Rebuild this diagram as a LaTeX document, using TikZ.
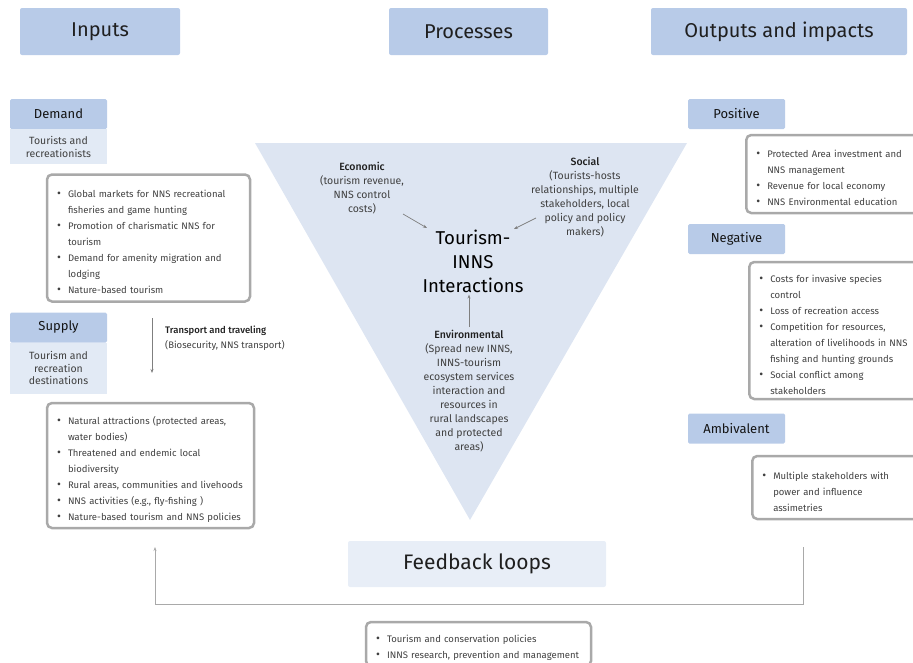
\documentclass[tikz,border=0pt]{standalone}
\usepackage{fontspec}
\setmainfont{Fira Sans}
\newfontface\medfont{Fira Sans Medium}
\usetikzlibrary{positioning,arrows.meta}
\definecolor{hdrblue}{HTML}{B8CBE8}
\definecolor{subblue}{HTML}{E2EAF5}
\definecolor{triblue}{HTML}{DDE5F2}
\definecolor{fbblue}{HTML}{E8EEF7}
\definecolor{boxgray}{HTML}{A9A9A9}
\definecolor{txtgray}{HTML}{404040}
\definecolor{arrgray}{HTML}{7F7F7F}
\newcommand\bitem{\par\noindent\hangindent=11pt\hangafter=1\makebox[11pt][l]{\fontsize{12}{12}\selectfont\textbullet}}
\begin{document}
\begin{tikzpicture}[x=1pt,y=-1pt,
  tophdr/.style={fill=hdrblue,rounded corners=2pt,minimum width=#1,minimum height=47pt,font=\fontsize{20}{24}\selectfont,text=black!88},
  subhdr/.style={fill=hdrblue,rounded corners=1.5pt,minimum width=97pt,minimum height=30pt,font=\fontsize{13}{15}\selectfont,text=black!92},
  subtxt/.style={fill=subblue,minimum width=97pt,minimum height=#1,align=center,font=\fontsize{10.5}{12.5}\selectfont,text=txtgray},
  bulletbox/.style={draw=boxgray,line width=2.5pt,rounded corners=5pt,text width=#1,inner xsep=10pt,align=left,font=\fontsize{9.5}{16}\selectfont,text=txtgray},
  midtxt/.style={align=center,font=\fontsize{10.5}{14}\selectfont,text=txtgray},
  arr/.style={draw=arrgray,line width=0.7pt,-{Stealth[length=4pt,width=3pt]}}]
\clip (0,0) rectangle (913,662);
% column headers
\node[tophdr=160pt] (inp) at (100,31.5) {Inputs};
\node[tophdr=159pt] (pro) at (468.5,31.5) {Processes};
\node[tophdr=256pt] (out) at (779,31.5) {Outputs and impacts};
% inputs
\node[subhdr] (dem) at (58.5,114) {Demand};
\node[subtxt=35pt,below=0pt of dem] (demt) {Tourists and\\recreationists};
\node[bulletbox=183pt,minimum height=127pt] (demb) at (148.5,238) {\bitem Global markets for NNS recreational\newline fisheries and game hunting
  \bitem Promotion of charismatic NNS for\newline tourism
  \bitem Demand for amenity migration and\newline lodging
  \bitem Nature-based tourism\par};
\node[subhdr] (sup) at (58.5,327.5) {Supply};
\node[subtxt=51pt,below=0pt of sup] (supt) {Tourism and\\recreation\\destinations};
\coordinate (tra1) at (152,318); \coordinate (tra2) at (152,373);
\draw[arr] (tra1) -- (tra2);
\node[anchor=north west,align=left,inner sep=0pt,font=\fontsize{9.5}{15}\selectfont,text=txtgray] (tra) at (165,326) {{\medfont\color{black!88}Transport and traveling}\\(Biosecurity, NNS transport)};
\node[bulletbox=187pt,minimum height=125pt] (supb) at (150.5,465.5) {\bitem Natural attractions (protected areas,\newline water bodies)
  \bitem Threatened and endemic local\newline biodiversity
  \bitem Rural areas, communities and livehoods
  \bitem NNS activities (e.g., fly-fishing )
  \bitem Nature-based tourism and NNS policies\par};
% processes
\fill[triblue] (255,143) -- (687,143) -- (470,520) -- cycle;
\node[midtxt] (eco) at (362,188.5) {{\medfont\color{black!88}Economic}\\(tourism revenue,\\NNS control\\costs)};
\node[midtxt] (soc) at (585,197) {{\medfont\color{black!88}Social}\\(Tourists-hosts\\relationships, multiple\\stakeholders, local\\policy and policy\\makers)};
\node[align=center,inner sep=2pt,font=\fontsize{18.6}{24}\selectfont] (tim) at (473,261) {Tourism-\\INNS\\Interactions};
\node[midtxt] (env) at (469,391.5) {{\medfont\color{black!88}Environmental}\\(Spread new INNS,\\INNS-tourism\\ecosystem services\\interaction and\\resources in\\rural landscapes\\and protected\\areas)};
\draw[arr] ([shift={(41,25.5)}]eco.center) -- ([shift={(-46,-33)}]tim.center);
\draw[arr] ([shift={(-49,21)}]soc.center) -- ([shift={(41,-32)}]tim.center);
\draw[arr] (env.north) -- (env.north |- tim.south);
% outputs and impacts
\node[subhdr] (pos) at (736.5,114) {Positive};
\node[bulletbox=162pt,minimum height=78pt,anchor=west] (posb) at (745,174) {\bitem Protected Area investment and\newline NNS management
  \bitem Revenue for local economy
  \bitem NNS Environmental education\par};
\node[subhdr] (neg) at (736.5,239) {Negative};
\node[bulletbox=162pt,minimum height=137pt,anchor=west] (negb) at (748,330.5) {\bitem Costs for invasive species\newline control
  \bitem Loss of recreation access
  \bitem Competition for resources,\newline alteration of livelihoods in NNS\newline fishing and hunting grounds
  \bitem Social conflict among\newline stakeholders\par};
\node[subhdr] (amb) at (736.5,428.5) {Ambivalent};
\node[bulletbox=162pt,minimum height=63pt,anchor=west] (ambb) at (751,487.5) {\bitem Multiple stakeholders with\newline power and influence\newline assimetries\par};
% feedback
\node[fill=fbblue,rounded corners=2pt,minimum width=258pt,minimum height=46pt,font=\fontsize{21}{24}\selectfont,text=black!88] (fbl) at (477,564) {Feedback loops};
\coordinate (fbr) at (803,547); \coordinate (fbe) at (155,547);
\draw[arr,draw=boxgray,line width=1pt] (fbr) -- ++(0,57) -| (fbe);
\node[bulletbox=205pt,minimum height=44pt] (pol) at (478.5,644) {\bitem Tourism and conservation policies
  \bitem INNS research, prevention and management\par};
\end{tikzpicture}
\end{document}
